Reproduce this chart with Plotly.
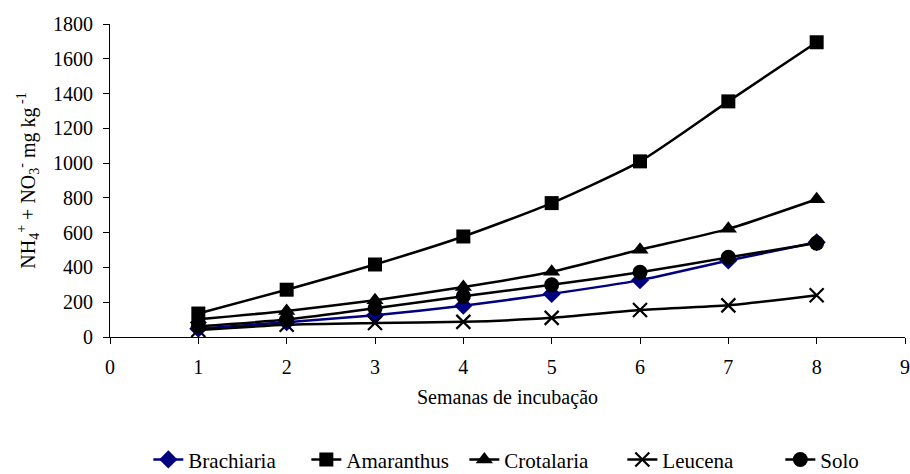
import plotly.graph_objects as go

weeks = [1, 2, 3, 4, 5, 6, 7, 8]
brachiaria = [48, 85, 125, 180, 248, 327, 440, 545]
amaranthus = [135, 272, 417, 578, 770, 1010, 1355, 1695]
crotalaria = [102, 150, 212, 287, 375, 502, 622, 792]
leucena = [40, 70, 80, 87, 110, 155, 182, 240]
solo = [62, 100, 165, 235, 300, 372, 458, 540]

x_ticks = list(range(0, 10))
y_ticks = list(range(0, 2000, 200))

FONT = "Liberation Serif, Times New Roman, serif"

series = [
    ("Brachiaria", brachiaria, "diamond", "#000080", 14),
    ("Amaranthus", amaranthus, "square", "#000000", 14),
    ("Crotalaria", crotalaria, "triangle-up", "#000000", 15),
    ("Leucena", leucena, "x-thin", "#000000", 14),
    ("Solo", solo, "circle", "#000000", 15),
]

fig = go.Figure()
for name, vals, sym, col, sz in series:
    marker = dict(symbol=sym, size=sz, color=col)
    if sym == "x-thin":
        marker["line"] = dict(width=2.2, color=col)
    fig.add_trace(go.Scatter(
        x=weeks, y=vals, name=name, mode="lines+markers",
        line=dict(color=col, width=2.5, shape="spline", smoothing=0.6),
        marker=marker,
    ))

tickfont = dict(family=FONT, size=20, color="black")

fig.update_layout(
    width=910, height=474,
    margin=dict(l=110, r=5, t=24, b=137),
    paper_bgcolor="white", plot_bgcolor="white",
    font=dict(family=FONT, size=20, color="black"),
    showlegend=True,
    legend=dict(orientation="h", xref="container", yref="container",
                x=0.163, xanchor="left", y=0.03, yanchor="middle",
                font=dict(family=FONT, size=21, color="black"),
                entrywidth=113, entrywidthmode="pixels", tracegroupgap=0),
    xaxis=dict(range=[0, 9], tickvals=x_ticks, ticks="outside", ticklen=6,
               tickcolor="black", showline=True, linecolor="black", linewidth=1,
               showgrid=False, zeroline=False, automargin=False,
               tickfont=tickfont, ticklabelstandoff=6,
               title=dict(text="Semanas de incubação", standoff=12,
                          font=dict(family=FONT, size=20, color="black"))),
    yaxis=dict(range=[0, 1800], tickvals=y_ticks, ticks="outside", ticklen=6,
               tickcolor="black", showline=True, linecolor="black", linewidth=1,
               showgrid=False, zeroline=False, automargin=False,
               tickfont=tickfont, ticklabelstandoff=6,
               title=dict(text="NH<sub>4</sub><sup>+</sup> + NO<sub>3</sub><sup>-</sup> mg kg<sup> -1</sup>",
                          standoff=12,
                          font=dict(family=FONT, size=20, color="black"))),
)

fig.write_html("out.html", config={"displayModeBar": False},
               post_script="document.body.style.margin='0';document.body.style.overflow='hidden';")
